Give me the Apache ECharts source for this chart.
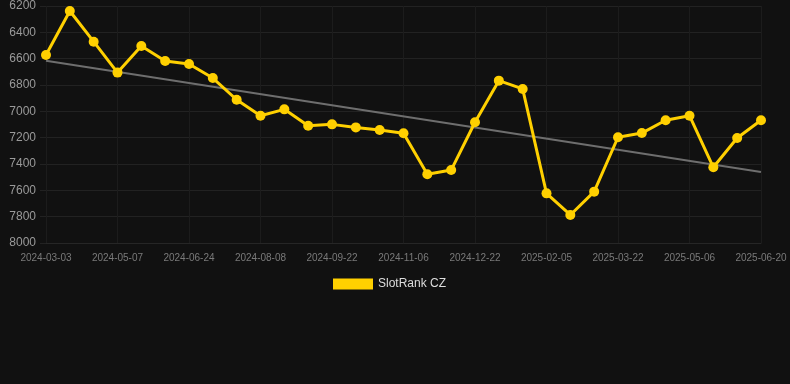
<!DOCTYPE html>
<html>
<head>
<meta charset="utf-8">
<script src="https://cdn.jsdelivr.net/npm/echarts@6/dist/echarts.min.js"></script>
<style>
html,body{margin:0;padding:0;background:#111111;}
#c{width:790px;height:384px;}
</style>
</head>
<body>
<div id="c"></div>
<script>
const categories = [
  "2024-03-03","2024-04-07","2024-04-22","2024-05-07","2024-05-22","2024-06-08",
  "2024-06-24","2024-07-09","2024-07-24","2024-08-08","2024-08-23","2024-09-07",
  "2024-09-22","2024-10-07","2024-10-22","2024-11-06","2024-11-21","2024-12-06",
  "2024-12-22","2025-01-06","2025-01-21","2025-02-05","2025-02-20","2025-03-07",
  "2025-03-22","2025-04-06","2025-04-21","2025-05-06","2025-05-21","2025-06-05",
  "2025-06-20"
];
const rankValues = [
  6572, 6238, 6471, 6706, 6504, 6618, 6640, 6747, 6912, 7033, 6985,
  7109, 7099, 7122, 7142, 7167, 7478, 7446, 7083, 6767, 6830,
  7623, 7787, 7610, 7197, 7165, 7068, 7033, 7425, 7203, 7068
];
const trendStart = 6615;
const trendEnd = 7461;
const yTicks = { min: 6200, max: 8000, interval: 200 };
const seriesName = "SlotRank CZ";

const trendValues = categories.map((c, i) =>
  i === 0 ? trendStart : (i === categories.length - 1 ? trendEnd : null));

const chart = echarts.init(document.getElementById('c'), null, {renderer: 'canvas'});
chart.setOption({
  backgroundColor: '#111111',
  animation: false,
  grid: { left: 46, right: 29, top: 6, bottom: 141, containLabel: false },
  legend: {
    top: 278,
    left: 333,
    padding: 0,
    icon: 'rect',
    itemWidth: 40,
    itemHeight: 11,
    itemGap: 7,
    data: [seriesName],
    textStyle: { color: '#dddddd', fontSize: 12, fontFamily: 'Arial, Liberation Sans, sans-serif' }
  },
  xAxis: {
    type: 'category',
    data: categories,
    boundaryGap: false,
    axisLine: { show: true, lineStyle: { color: '#262626' } },
    axisTick: { show: false },
    axisLabel: { interval: 2, color: '#7a7a7a', fontSize: 10, margin: 10, fontFamily: 'Arial, Liberation Sans, sans-serif' },
    splitLine: { show: true, interval: 2, lineStyle: { color: '#1c1c1c', width: 1 } }
  },
  yAxis: {
    type: 'value',
    inverse: true,
    min: yTicks.min,
    max: yTicks.max,
    interval: yTicks.interval,
    axisLine: { show: false },
    axisTick: { show: true, length: 6, lineStyle: { color: '#222222' } },
    axisLabel: { color: '#9a9a9a', fontSize: 12, margin: 10, fontFamily: 'Arial, Liberation Sans, sans-serif', formatter: v => String(v) },
    splitLine: { show: true, lineStyle: { color: '#222222', width: 1 } }
  },
  series: [
    {
      name: 'trend',
      type: 'line',
      data: trendValues,
      connectNulls: true,
      symbol: 'none',
      silent: true,
      lineStyle: { color: '#6e6e6e', width: 2 },
      z: 1
    },
    {
      name: seriesName,
      type: 'line',
      data: rankValues,
      symbol: 'circle',
      symbolSize: 10,
      itemStyle: { color: '#FFD000' },
      lineStyle: { color: '#FFD000', width: 3 },
      z: 2
    }
  ]
});
</script>
</body>
</html>
